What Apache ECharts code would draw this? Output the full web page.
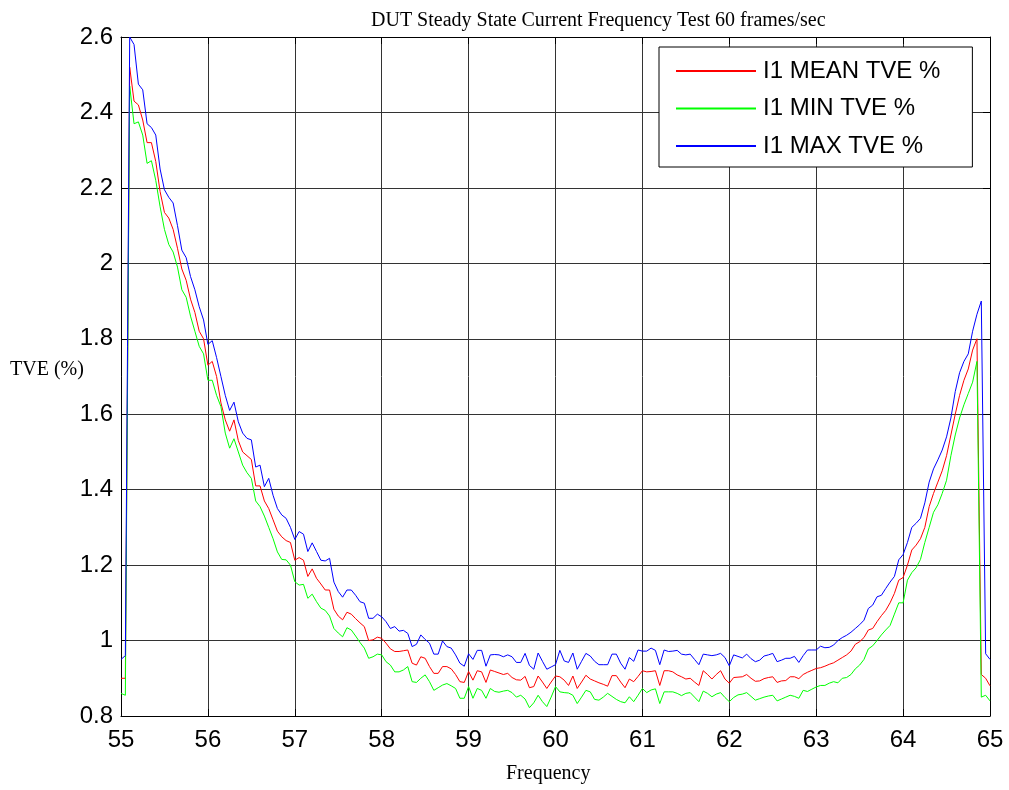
<!DOCTYPE html>
<html>
<head>
<meta charset="utf-8">
<script src="https://cdn.jsdelivr.net/npm/echarts@6/dist/echarts.min.js"></script>
<style>
html,body{margin:0;padding:0;background:#fff;}
#chart{width:1009px;height:790px;}
</style>
</head>
<body>
<div id="chart"></div>
<script>
// Frequency grid: 55.00 .. 65.00 Hz, step 0.05 Hz (201 points)
const FREQ_START = 55;
const FREQ_STEP = 0.05;
const FREQ_COUNT = 201;

const seriesNames = ['I1 MEAN TVE %', 'I1 MIN TVE %', 'I1 MAX TVE %'];

const meanTVE = [
  0.90, 0.90, 2.52, 2.43, 2.42, 2.38, 2.32, 2.32, 2.27, 2.19,
  2.135, 2.12, 2.09, 2.04, 1.985, 1.955, 1.905, 1.87, 1.82, 1.80,
  1.73, 1.74, 1.70, 1.63, 1.585, 1.555, 1.585, 1.53, 1.50, 1.49,
  1.48, 1.41, 1.41, 1.37, 1.35, 1.32, 1.29, 1.275, 1.265, 1.26,
  1.213, 1.22, 1.213, 1.17, 1.19, 1.165, 1.15, 1.134, 1.134, 1.083,
  1.065, 1.055, 1.075, 1.07, 1.058, 1.047, 1.037, 1.00, 1.002, 1.009,
  1.006, 0.993, 0.978, 0.971, 0.971, 0.973, 0.975, 0.94, 0.935, 0.957,
  0.953, 0.931, 0.913, 0.913, 0.931, 0.931, 0.925, 0.91, 0.891, 0.889,
  0.918, 0.895, 0.92, 0.917, 0.889, 0.922, 0.918, 0.914, 0.91, 0.913,
  0.902, 0.896, 0.895, 0.905, 0.875, 0.878, 0.906, 0.89, 0.873, 0.89,
  0.906, 0.904, 0.895, 0.881, 0.906, 0.873, 0.89, 0.908, 0.898, 0.893,
  0.888, 0.884, 0.879, 0.907, 0.907, 0.89, 0.875, 0.898, 0.891, 0.905,
  0.92, 0.917, 0.918, 0.92, 0.881, 0.92, 0.92, 0.917, 0.909, 0.904,
  0.898, 0.90, 0.89, 0.881, 0.92, 0.91, 0.898, 0.91, 0.92, 0.898,
  0.887, 0.902, 0.903, 0.904, 0.91, 0.90, 0.892, 0.893, 0.899, 0.902,
  0.904, 0.889, 0.893, 0.894, 0.904, 0.904, 0.899, 0.91, 0.916, 0.921,
  0.926, 0.928, 0.932, 0.937, 0.941, 0.948, 0.955, 0.962, 0.972, 0.99,
  0.997, 1.008, 1.028, 1.032, 1.05, 1.066, 1.08, 1.10, 1.125, 1.16,
  1.167, 1.20, 1.24, 1.253, 1.27, 1.30, 1.355, 1.39, 1.42, 1.45,
  1.49, 1.545, 1.60, 1.65, 1.69, 1.72, 1.77, 1.80, 0.91, 0.90, 0.88
];

const minTVE = [
  0.86, 0.855, 2.47, 2.37, 2.375, 2.34, 2.265, 2.272, 2.22, 2.15,
  2.09, 2.05, 2.03, 1.99, 1.93, 1.91, 1.86, 1.82, 1.78, 1.76,
  1.69, 1.69, 1.65, 1.62, 1.55, 1.51, 1.535, 1.50, 1.465, 1.445,
  1.43, 1.37, 1.355, 1.33, 1.30, 1.27, 1.235, 1.215, 1.214, 1.20,
  1.156, 1.147, 1.149, 1.112, 1.123, 1.103, 1.086, 1.08, 1.065, 1.032,
  1.02, 1.01, 1.034, 1.028, 1.012, 0.995, 0.98, 0.953, 0.957, 0.964,
  0.962, 0.944, 0.935, 0.917, 0.917, 0.922, 0.931, 0.891, 0.889, 0.90,
  0.909, 0.891, 0.868, 0.875, 0.882, 0.886, 0.88, 0.873, 0.847, 0.847,
  0.878, 0.847, 0.873, 0.868, 0.847, 0.873, 0.865, 0.863, 0.866, 0.868,
  0.862, 0.85, 0.855, 0.845, 0.822, 0.835, 0.855, 0.838, 0.825, 0.85,
  0.878, 0.864, 0.862, 0.861, 0.855, 0.833, 0.85, 0.868, 0.864, 0.844,
  0.842, 0.85, 0.86, 0.852, 0.844, 0.838, 0.835, 0.851, 0.838, 0.855,
  0.873, 0.862, 0.869, 0.872, 0.833, 0.864, 0.864, 0.864, 0.86, 0.854,
  0.86, 0.862, 0.85, 0.838, 0.866, 0.86, 0.851, 0.858, 0.862, 0.849,
  0.838, 0.849, 0.856, 0.858, 0.862, 0.852, 0.842, 0.846, 0.85, 0.853,
  0.855, 0.84, 0.845, 0.85, 0.855, 0.852, 0.847, 0.868, 0.865, 0.871,
  0.877, 0.881, 0.881, 0.887, 0.891, 0.888, 0.90, 0.902, 0.91, 0.925,
  0.935, 0.95, 0.978, 0.986, 1.0, 1.015, 1.028, 1.04, 1.07, 1.10,
  1.10, 1.16, 1.18, 1.193, 1.215, 1.26, 1.30, 1.34, 1.36, 1.39,
  1.425, 1.49, 1.545, 1.59, 1.625, 1.655, 1.685, 1.74, 0.85, 0.855, 0.84
];

const maxTVE = [
  0.95, 0.96, 2.60, 2.58, 2.475, 2.46, 2.37, 2.36, 2.34, 2.25,
  2.195, 2.175, 2.16, 2.10, 2.035, 2.015, 1.965, 1.93, 1.885, 1.85,
  1.785, 1.795, 1.75, 1.70, 1.65, 1.61, 1.632, 1.58, 1.55, 1.536,
  1.532, 1.46, 1.465, 1.408, 1.43, 1.385, 1.35, 1.333, 1.324, 1.30,
  1.268, 1.289, 1.282, 1.236, 1.259, 1.236, 1.213, 1.211, 1.218, 1.155,
  1.13, 1.115, 1.134, 1.134, 1.12, 1.103, 1.099, 1.059, 1.059, 1.07,
  1.063, 1.05, 1.032, 1.037, 1.025, 1.027, 1.019, 0.984, 0.99, 1.015,
  1.003, 0.993, 0.964, 0.964, 0.999, 0.984, 0.98, 0.962, 0.94, 0.932,
  0.965, 0.95, 0.974, 0.974, 0.932, 0.962, 0.963, 0.962, 0.957, 0.962,
  0.957, 0.942, 0.942, 0.966, 0.934, 0.924, 0.967, 0.945, 0.924, 0.93,
  0.936, 0.974, 0.946, 0.942, 0.967, 0.924, 0.945, 0.966, 0.959, 0.945,
  0.936, 0.936, 0.936, 0.964, 0.964, 0.94, 0.924, 0.955, 0.945, 0.975,
  0.972, 0.972, 0.98, 0.974, 0.936, 0.975, 0.971, 0.972, 0.974, 0.964,
  0.962, 0.964, 0.95, 0.936, 0.964, 0.962, 0.96, 0.962, 0.966, 0.955,
  0.933, 0.962, 0.958, 0.954, 0.964, 0.952, 0.944, 0.948, 0.959, 0.962,
  0.966, 0.944, 0.948, 0.953, 0.953, 0.958, 0.942, 0.96, 0.975, 0.975,
  0.975, 0.985, 0.981, 0.982, 0.988, 1.0, 1.008, 1.014, 1.022, 1.032,
  1.042, 1.054, 1.085, 1.094, 1.116, 1.12, 1.138, 1.155, 1.17, 1.214,
  1.228, 1.26, 1.30, 1.311, 1.324, 1.365, 1.42, 1.455, 1.479, 1.505,
  1.54, 1.59, 1.66, 1.71, 1.74, 1.76, 1.82, 1.865, 1.90, 0.965, 0.95
];

const xTicks = {min: 55, max: 65, interval: 1};
const yTicks = {min: 0.8, max: 2.6, interval: 0.2};

const freq = [];
for (let i = 0; i < FREQ_COUNT; i++) freq.push(+(FREQ_START + i * FREQ_STEP).toFixed(2));

function pairs(vals) { return vals.map((v, i) => [freq[i], v]); }

const chart = echarts.init(document.getElementById('chart'), null, {renderer: 'canvas'});

const sansFont = '"Liberation Sans", Arial, sans-serif';
const serifFont = '"Liberation Serif", "Times New Roman", serif';
const tickFont = {fontFamily: sansFont, fontSize: 24, color: '#000'};

const baseX = {
  type: 'value', min: xTicks.min, max: xTicks.max, interval: xTicks.interval,
  axisLine: {show: true, onZero: false, lineStyle: {color: '#000', width: 1}},
  axisTick: {show: true, inside: true, length: 7, lineStyle: {color: '#000', width: 1}}
};
const baseY = {
  type: 'value', min: yTicks.min, max: yTicks.max, interval: yTicks.interval,
  axisLine: {show: true, onZero: false, lineStyle: {color: '#000', width: 1}},
  axisTick: {show: true, inside: true, length: 7, lineStyle: {color: '#000', width: 1}}
};

chart.setOption({
  animation: false,
  backgroundColor: '#fff',
  title: {
    text: 'DUT Steady State Current Frequency Test 60 frames/sec',
    left: 366, top: 6,
    textStyle: {fontFamily: serifFont, fontSize: 20, fontWeight: 'normal', color: '#000'}
  },
  grid: {left: 121, right: 19, top: 37, bottom: 74, containLabel: false},
  legend: {
    orient: 'vertical',
    left: 659, top: 47,
    padding: [11, 32, 8, 16],
    itemWidth: 80, itemHeight: 1, itemGap: 11.5,
    backgroundColor: '#fff', borderColor: '#000', borderWidth: 1,
    textStyle: {fontFamily: sansFont, fontSize: 24, color: '#000', lineHeight: 26, padding: [0, 0, 0, 2]},
    data: seriesNames
  },
  xAxis: [
    Object.assign({}, baseX, {
      position: 'bottom',
      axisLabel: Object.assign({margin: 12}, tickFont),
      splitLine: {show: true, lineStyle: {color: '#333', width: 1}}
    }),
    Object.assign({}, baseX, {
      position: 'top',
      axisLabel: {show: false},
      splitLine: {show: false}
    })
  ],
  yAxis: [
    Object.assign({}, baseY, {
      position: 'left',
      axisLabel: Object.assign({margin: 8}, tickFont),
      splitLine: {show: true, lineStyle: {color: '#333', width: 1}}
    }),
    Object.assign({}, baseY, {
      position: 'right',
      axisLabel: {show: false},
      splitLine: {show: false}
    })
  ],
  graphic: [
    {type: 'text', left: 10, top: 360, style: {text: 'TVE (%)', font: '20px ' + serifFont, fill: '#000'}},
    {type: 'text', left: 506, top: 764, style: {text: 'Frequency', font: '20px ' + serifFont, fill: '#000'}}
  ],
  series: [
    {name: seriesNames[0], type: 'line', data: pairs(meanTVE), symbol: 'none', showSymbol: false, legendIcon: 'rect',
     lineStyle: {color: '#ff0000', width: 1}, itemStyle: {color: '#ff0000'}},
    {name: seriesNames[1], type: 'line', data: pairs(minTVE), symbol: 'none', showSymbol: false, legendIcon: 'rect',
     lineStyle: {color: '#00ff00', width: 1}, itemStyle: {color: '#00ff00'}},
    {name: seriesNames[2], type: 'line', data: pairs(maxTVE), symbol: 'none', showSymbol: false, legendIcon: 'rect',
     lineStyle: {color: '#0000ff', width: 1}, itemStyle: {color: '#0000ff'}}
  ]
});
</script>
</body>
</html>
